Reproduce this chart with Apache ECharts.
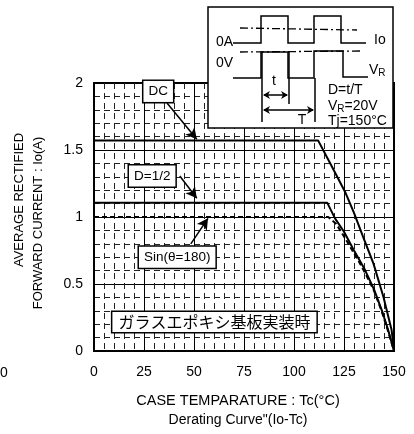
<!DOCTYPE html>
<html><head><meta charset="utf-8">
<script src="https://cdn.jsdelivr.net/npm/echarts@6/dist/echarts.min.js"></script>
<style>html,body{margin:0;padding:0;background:#fff}#c{width:414px;height:434px}</style>
</head><body><div id="c"></div>
<script>
// data
const xTicks = [0, 25, 50, 75, 100, 125, 150];
const yTicks = [0, 0.5, 1, 1.5, 2];
const dcCurve = [[0,1.57],[112.1,1.57],[118.8,1.38],[125.5,1.189],[130,1.03],[134.6,0.85],[139.7,0.654],[144.7,0.405],[148.8,0.157],[150,0]];
const halfCurve = [[0,1.107],[116.6,1.107],[120.5,0.99],[125,0.89],[130,0.75],[135,0.62],[140,0.46],[144,0.30],[147,0.16],[150,0]];
const sinCurve = [[0,1.0],[117.1,1.0],[121,0.95],[124,0.88],[128,0.78],[132,0.68],[136,0.57],[140,0.45],[144,0.29],[147,0.15],[150,0]];
const labelBoxes = [
  {text:'DC', at:[32.1,1.937], arrowFrom:[36.5,1.85], arrowTo:[51.4,1.58]},
  {text:'D=1/2', at:[29.1,1.306], arrowFrom:[42.9,1.306], arrowTo:[51.4,1.14]},
  {text:'Sin(θ=180)', at:[41.6,0.70], arrowFrom:[48.4,0.80], arrowTo:[57,0.99]}
];
const jpLabel = {text:'ガラスエポキシ基板実装時', at:[60.2,0.216]};

const chart = echarts.init(document.getElementById('c'));
const FONT = '"Liberation Sans", Arial, sans-serif';
const black = '#000';
function ser(name, data, dashed, width){
  return {name, type:'line', data, symbol:'none', silent:true, animation:false,
    lineStyle:{color:black, width:width, type: dashed ? [5,3] : 'solid'}};
}
const arrows = labelBoxes.map(b => [{coord:b.arrowFrom, symbol:'none'},{coord:b.arrowTo, symbol:'arrow'}]);
const series = [ser('DC', dcCurve, false, 2), ser('D=1/2', halfCurve, false, 2), ser('Sin', sinCurve, true, 2)];
series[0].markLine = {silent:true, animation:false, symbol:['none','arrow'], symbolSize:[9,11], label:{show:false},
  lineStyle:{color:black, width:1.5, type:'solid'}, data: arrows};

chart.setOption({
  animation:false,
  grid:{left:94, right:20, top:83, bottom:83, show:true, borderColor:black, borderWidth:2, backgroundColor:'transparent'},
  xAxis:{type:'value', min:xTicks[0], max:xTicks[xTicks.length-1], interval:25,
    axisLine:{show:false}, axisTick:{show:false},
    axisLabel:{color:black, fontFamily:FONT, fontSize:14, margin:14},
    splitLine:{show:true, lineStyle:{color:black, width:1}},
    minorTick:{show:false, splitNumber:5},
    minorSplitLine:{show:true, lineStyle:{color:'#222', width:1, type:[6,4]}}},
  yAxis:{type:'value', min:yTicks[0], max:yTicks[yTicks.length-1], interval:0.5,
    axisLabel:{color:black, fontFamily:FONT, fontSize:14, margin:11},
    axisLine:{show:false}, axisTick:{show:false},
    splitLine:{show:true, lineStyle:{color:black, width:1}},
    minorTick:{show:false, splitNumber:5},
    minorSplitLine:{show:true, lineStyle:{color:'#222', width:1, type:[6,4]}}},
  series
});

function px(p){ return chart.convertToPixel({gridIndex:0}, p); }
const g = [];
labelBoxes.forEach(b => {
  const p = px(b.at);
  g.push({type:'text', x:p[0], y:p[1], z:100, style:{text:b.text, fill:black, font:'13.5px '+FONT,
    align:'center', verticalAlign:'middle', backgroundColor:'#fff', borderColor:black, borderWidth:1.5, padding:[4,5,3,5]}});
});
{
  const p = px(jpLabel.at);
  g.push({type:'text', x:p[0], y:p[1], z:100, style:{text:jpLabel.text, fill:black, font:'16px "Noto Sans CJK JP", sans-serif',
    align:'center', verticalAlign:'middle', backgroundColor:'#fff', borderColor:black, borderWidth:1.5, padding:[2,6,2,6]}});
}
// axis titles
g.push({type:'text', x:19, y:200, rotation:Math.PI/2, z:100, style:{text:'AVERAGE RECTIFIED', fill:black, font:'13px '+FONT, align:'center', verticalAlign:'middle'}});
g.push({type:'text', x:38, y:223, rotation:Math.PI/2, z:100, style:{text:'FORWARD CURRENT : Io(A)', fill:black, font:'13px '+FONT, align:'center', verticalAlign:'middle'}});
g.push({type:'text', x:238, y:401, z:100, style:{text:'CASE TEMPARATURE : Tc(°C)', fill:black, font:'14.5px '+FONT, align:'center', verticalAlign:'middle'}});
g.push({type:'text', x:238, y:420, z:100, style:{text:'Derating Curve"(Io-Tc)', fill:black, font:'14px '+FONT, align:'center', verticalAlign:'middle'}});
g.push({type:'text', x:4, y:373, z:100, style:{text:'0', fill:black, font:'14px '+FONT, align:'center', verticalAlign:'middle'}});

// inset diagram
const L = {stroke:black, lineWidth:1.5, fill:null};
const DD = {stroke:black, lineWidth:1.3, fill:null, lineDash:[8,3,2,3]};
const F = '14px '+FONT;
const ins = [
  {type:'rect', shape:{x:0,y:0,width:185,height:121}, style:{fill:'#fff', stroke:black, lineWidth:1.5}},
  {type:'polyline', shape:{points:[[25,36],[53,36],[53,9],[80,9],[80,36],[106,36],[106,9],[133,9],[133,36],[158,36]]}, style:L},
  {type:'line', shape:{x1:32,y1:21,x2:149,y2:23}, style:DD},
  {type:'polyline', shape:{points:[[25,71],[53,71],[53,45],[80,45],[80,71],[106,71],[106,44],[135,44],[135,70],[160,70]]}, style:L},
  {type:'line', shape:{x1:32,y1:45,x2:152,y2:44}, style:DD},
  {type:'line', shape:{x1:54,y1:45,x2:54,y2:115}, style:L},
  {type:'line', shape:{x1:81,y1:45,x2:81,y2:97}, style:L},
  {type:'line', shape:{x1:107,y1:71,x2:107,y2:115}, style:L},
  {type:'line', shape:{x1:56,y1:88,x2:79,y2:88}, style:L},
  {type:'polygon', shape:{points:[[55,88],[62,84],[60,88],[62,92]]}, style:{fill:black}},
  {type:'polygon', shape:{points:[[80,88],[73,84],[75,88],[73,92]]}, style:{fill:black}},
  {type:'line', shape:{x1:56,y1:103,x2:105,y2:103}, style:L},
  {type:'polygon', shape:{points:[[55,103],[62,99],[60,103],[62,107]]}, style:{fill:black}},
  {type:'polygon', shape:{points:[[106,103],[99,99],[101,103],[99,107]]}, style:{fill:black}},
  {type:'text', x:25, y:35, style:{text:'0A', fill:black, font:F, align:'right', verticalAlign:'middle'}},
  {type:'text', x:166, y:33, style:{text:'Io', fill:black, font:F, align:'left', verticalAlign:'middle'}},
  {type:'text', x:8, y:56, style:{text:'0V', fill:black, font:F, align:'left', verticalAlign:'middle'}},
  {type:'text', x:161, y:63, style:{text:'{a|V}{b|R}', fill:black, align:'left', verticalAlign:'middle',
    rich:{a:{font:F, fill:black}, b:{font:'10px '+FONT, fill:black, padding:[6,0,0,0]}}}},
  {type:'text', x:66, y:74, style:{text:'t', fill:black, font:F, align:'center', verticalAlign:'middle'}},
  {type:'text', x:94, y:113, style:{text:'T', fill:black, font:F, align:'center', verticalAlign:'middle'}},
  {type:'text', x:120, y:83, style:{text:'D=t/T', fill:black, font:F, align:'left', verticalAlign:'middle'}},
  {type:'text', x:120, y:99, style:{text:'{a|V}{b|R}{a|=20V}', fill:black, align:'left', verticalAlign:'middle',
    rich:{a:{font:F, fill:black}, b:{font:'10px '+FONT, fill:black, padding:[6,0,0,0]}}}},
  {type:'text', x:120, y:114, style:{text:'Tj=150°C', fill:black, font:F, align:'left', verticalAlign:'middle'}}
];
g.push({type:'group', x:208, y:7, z:100, children:ins});
chart.setOption({graphic:g});
</script></body></html>
